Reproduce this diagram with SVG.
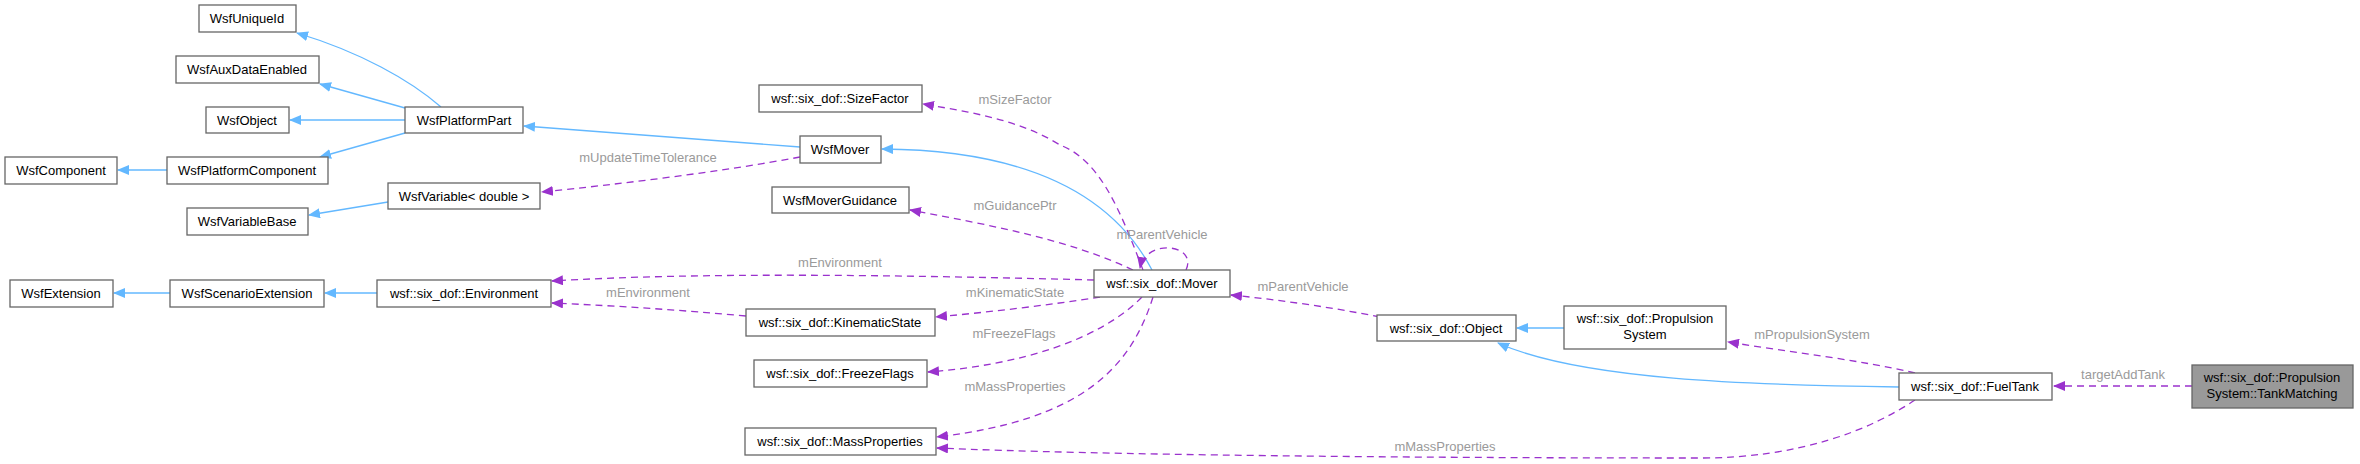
<svg xmlns="http://www.w3.org/2000/svg" width="2360" height="464" viewBox="0 0 2360 464">
<style>
.n rect{fill:#fff;stroke:#666;stroke-width:1.3}
.n text{font-family:"Liberation Sans",Arial,sans-serif;font-size:13px;text-anchor:middle;fill:#000}
.b{fill:none;stroke:#63b8ff;stroke-width:1.3}
.p{fill:none;stroke:#9a32cd;stroke-width:1.3;stroke-dasharray:7,5}
.l{font-family:"Liberation Sans",Arial,sans-serif;font-size:13px;text-anchor:middle;fill:#9a9a9a}
</style>
<defs>
<marker id="ab" markerWidth="12" markerHeight="10" refX="11" refY="5" orient="auto" markerUnits="userSpaceOnUse"><path d="M0,0L12,5L0,10z" fill="#63b8ff"/></marker>
<marker id="ap" markerWidth="12" markerHeight="10" refX="11" refY="5" orient="auto" markerUnits="userSpaceOnUse"><path d="M0,0L12,5L0,10z" fill="#9a32cd"/></marker>
</defs>
<rect width="2360" height="464" fill="#fff"/>
<g id="edges">
<path class="b" marker-end="url(#ab)" d="M441,107C410,80 360,52 297,33"/>
<path class="b" marker-end="url(#ab)" d="M405,108L320,84"/>
<path class="b" marker-end="url(#ab)" d="M405,120L290,120"/>
<path class="b" marker-end="url(#ab)" d="M405,133L320,157"/>
<path class="b" marker-end="url(#ab)" d="M167,170L118,170"/>
<path class="b" marker-end="url(#ab)" d="M388,202L309,215"/>
<path class="b" marker-end="url(#ab)" d="M800,147L524,126"/>
<path class="b" marker-end="url(#ab)" d="M1152,270C1110,190 1020,150 882,149"/>
<path class="b" marker-end="url(#ab)" d="M170,293L114,293"/>
<path class="b" marker-end="url(#ab)" d="M377,293L325,293"/>
<path class="b" marker-end="url(#ab)" d="M1564,328L1517,328"/>
<path class="b" marker-end="url(#ab)" d="M1899,387C1750,385 1580,380 1498,343"/>
<path class="p" marker-end="url(#ap)" d="M800,157C720,172 620,184 542,192"/>
<text class="l" x="648" y="162">mUpdateTimeTolerance</text>
<path class="p" marker-end="url(#ap)" d="M1143,270C1120,210 1100,160 1060,145C1020,120 970,112 923,104"/>
<text class="l" x="1015" y="104">mSizeFactor</text>
<path class="p" marker-end="url(#ap)" d="M1133,270C1070,240 990,225 910,210"/>
<text class="l" x="1015" y="210">mGuidancePtr</text>
<path class="p" marker-end="url(#ap)" d="M1186,270C1198,244 1146,238 1140,268"/>
<text class="l" x="1162" y="239">mParentVehicle</text>
<path class="p" marker-end="url(#ap)" d="M1094,280C900,275 700,272 552,281"/>
<text class="l" x="840" y="267">mEnvironment</text>
<path class="p" marker-end="url(#ap)" d="M746,316C680,310 620,306 552,303"/>
<text class="l" x="648" y="297">mEnvironment</text>
<path class="p" marker-end="url(#ap)" d="M1100,297C1050,305 990,312 936,317"/>
<text class="l" x="1015" y="297">mKinematicState</text>
<path class="p" marker-end="url(#ap)" d="M1142,297C1100,340 1020,365 928,372"/>
<text class="l" x="1014" y="338">mFreezeFlags</text>
<path class="p" marker-end="url(#ap)" d="M1153,297C1130,370 1080,420 937,437"/>
<text class="l" x="1015" y="391">mMassProperties</text>
<path class="p" marker-end="url(#ap)" d="M1380,317C1330,307 1280,300 1231,295"/>
<text class="l" x="1303" y="291">mParentVehicle</text>
<path class="p" marker-end="url(#ap)" d="M1915,373C1860,360 1790,352 1728,342"/>
<text class="l" x="1812" y="339">mPropulsionSystem</text>
<path class="p" marker-end="url(#ap)" d="M2192,386L2054,386"/>
<text class="l" x="2123" y="379">targetAddTank</text>
<path class="p" marker-end="url(#ap)" d="M1915,400C1870,430 1800,458 1700,458C1400,458 1100,455 937,448"/>
<text class="l" x="1445" y="451">mMassProperties</text>
</g>
<g id="WsfUniqueId" class="n"><rect x="199" y="5" width="97" height="27"/><text x="247" y="23">WsfUniqueId</text></g>
<g id="WsfAuxDataEnabled" class="n"><rect x="176" y="56" width="143" height="27"/><text x="247" y="74">WsfAuxDataEnabled</text></g>
<g id="WsfObject" class="n"><rect x="206" y="107" width="83" height="26"/><text x="247" y="125">WsfObject</text></g>
<g id="WsfPlatformPart" class="n"><rect x="405" y="107" width="118" height="26"/><text x="464" y="125">WsfPlatformPart</text></g>
<g id="WsfComponent" class="n"><rect x="5" y="157" width="112" height="27"/><text x="61" y="175">WsfComponent</text></g>
<g id="WsfPlatformComponent" class="n"><rect x="167" y="157" width="161" height="27"/><text x="247" y="175">WsfPlatformComponent</text></g>
<g id="WsfVariableDouble" class="n"><rect x="388" y="183" width="152" height="26"/><text x="464" y="201">WsfVariable&lt; double &gt;</text></g>
<g id="WsfVariableBase" class="n"><rect x="187" y="208" width="121" height="27"/><text x="247" y="226">WsfVariableBase</text></g>
<g id="WsfExtension" class="n"><rect x="10" y="280" width="103" height="27"/><text x="61" y="298">WsfExtension</text></g>
<g id="WsfScenarioExtension" class="n"><rect x="170" y="280" width="154" height="27"/><text x="247" y="298">WsfScenarioExtension</text></g>
<g id="Environment" class="n"><rect x="377" y="280" width="174" height="27"/><text x="464" y="298">wsf::six_dof::Environment</text></g>
<g id="SizeFactor" class="n"><rect x="759" y="85" width="163" height="27"/><text x="840" y="103">wsf::six_dof::SizeFactor</text></g>
<g id="WsfMover" class="n"><rect x="800" y="136" width="81" height="27"/><text x="840" y="154">WsfMover</text></g>
<g id="WsfMoverGuidance" class="n"><rect x="772" y="187" width="137" height="26"/><text x="840" y="205">WsfMoverGuidance</text></g>
<g id="Mover" class="n"><rect x="1094" y="270" width="136" height="27"/><text x="1162" y="288">wsf::six_dof::Mover</text></g>
<g id="KinematicState" class="n"><rect x="746" y="309" width="189" height="27"/><text x="840" y="327">wsf::six_dof::KinematicState</text></g>
<g id="FreezeFlags" class="n"><rect x="754" y="360" width="173" height="27"/><text x="840" y="378">wsf::six_dof::FreezeFlags</text></g>
<g id="MassProperties" class="n"><rect x="745" y="428" width="191" height="27"/><text x="840" y="446">wsf::six_dof::MassProperties</text></g>
<g id="Object" class="n"><rect x="1377" y="315" width="139" height="26"/><text x="1446" y="333">wsf::six_dof::Object</text></g>
<g id="PropulsionSystem" class="n"><rect x="1564" y="306" width="162" height="43"/><text x="1645" y="323">wsf::six_dof::Propulsion</text><text x="1645" y="339">System</text></g>
<g id="FuelTank" class="n"><rect x="1899" y="373" width="153" height="27"/><text x="1975" y="391">wsf::six_dof::FuelTank</text></g>
<g id="TankMatching" class="n"><rect x="2192" y="365" width="161" height="43" style="fill:#999"/><text x="2272" y="382">wsf::six_dof::Propulsion</text><text x="2272" y="398">System::TankMatching</text></g>
</svg>
